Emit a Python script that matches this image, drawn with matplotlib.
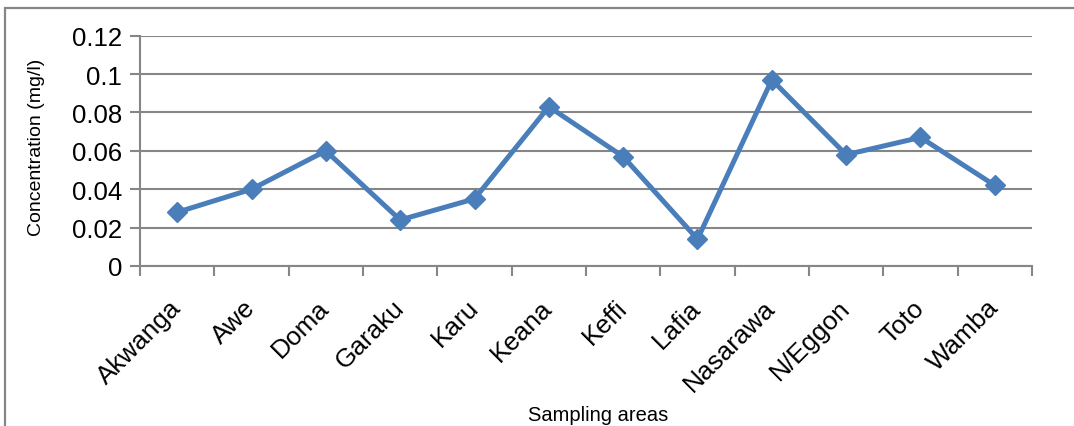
import numpy as np
import matplotlib
matplotlib.use("Agg")
import matplotlib.pyplot as plt
from matplotlib.patches import Rectangle
from matplotlib.transforms import ScaledTranslation

# data
areas = ["Akwanga", "Awe", "Doma", "Garaku", "Karu", "Keana", "Keffi",
         "Lafia", "Nasarawa", "N/Eggon", "Toto", "Wamba"]
conc = [0.028, 0.040, 0.060, 0.024, 0.035, 0.083, 0.057,
        0.014, 0.097, 0.058, 0.067, 0.042]
yticks = [0, 0.02, 0.04, 0.06, 0.08, 0.1, 0.12]
ytick_labels = ["0", "0.02", "0.04", "0.06", "0.08", "0.1", "0.12"]

plt.rcParams["font.family"] = ["Liberation Sans", "DejaVu Sans"]
grey = "#868686"
blue = "#4A7EBB"

fig = plt.figure(figsize=(10.74, 4.27), dpi=100)
ax = fig.add_axes([140/1074, 1 - 267/427, (1032 - 140)/1074, (267 - 36.7)/427])

# outer chart frame (right/bottom run off the picture)
fig.patches.append(Rectangle((5/1074, -0.1), 1.2, 1 - 9/427 + 0.1,
                             transform=fig.transFigure, fill=False,
                             edgecolor=grey, linewidth=1.6))

x = np.arange(len(areas))
ax.plot(x, conc, color=blue, linewidth=3.6, marker="D", markersize=10.5,
        markerfacecolor=blue, markeredgecolor=blue, zorder=3)

ax.set_xlim(-0.5, len(areas) - 0.5)
ax.set_ylim(0, 0.12)
ax.set_yticks(yticks)
ax.set_yticklabels(ytick_labels, fontsize=18.5)
ax.yaxis.grid(True, color=grey, linewidth=1.5)
ax.set_axisbelow(True)

ax.set_xticks(x)
ax.set_xticklabels(areas, fontsize=18.8, rotation=45, ha="right", va="center",
                   rotation_mode="anchor")
# nudge labels a little to the right, like the original
shift = ScaledTranslation(5/100, 0, fig.dpi_scale_trans)
for lab in ax.get_xticklabels():
    lab.set_transform(lab.get_transform() + shift)
ax.set_xticks(np.arange(-0.5, len(areas)), minor=True)
ax.tick_params(axis="x", which="major", length=0, pad=27)
ax.tick_params(axis="x", which="minor", length=7, width=1.5, color=grey)
ax.tick_params(axis="y", length=7, width=1.5, color=grey, pad=6)

for s in ["top", "right"]:
    ax.spines[s].set_visible(False)
for s in ["left", "bottom"]:
    ax.spines[s].set_color(grey)
    ax.spines[s].set_linewidth(1.5)

fig.text(37/1074, 1 - 147/427, "Concentration (mg/l)", rotation=90,
         ha="center", va="center", fontsize=14)
fig.text(598/1074, 1 - 416/427, "Sampling areas", ha="center", va="center",
         fontsize=14.5)

fig.savefig("out.png", dpi=100)
